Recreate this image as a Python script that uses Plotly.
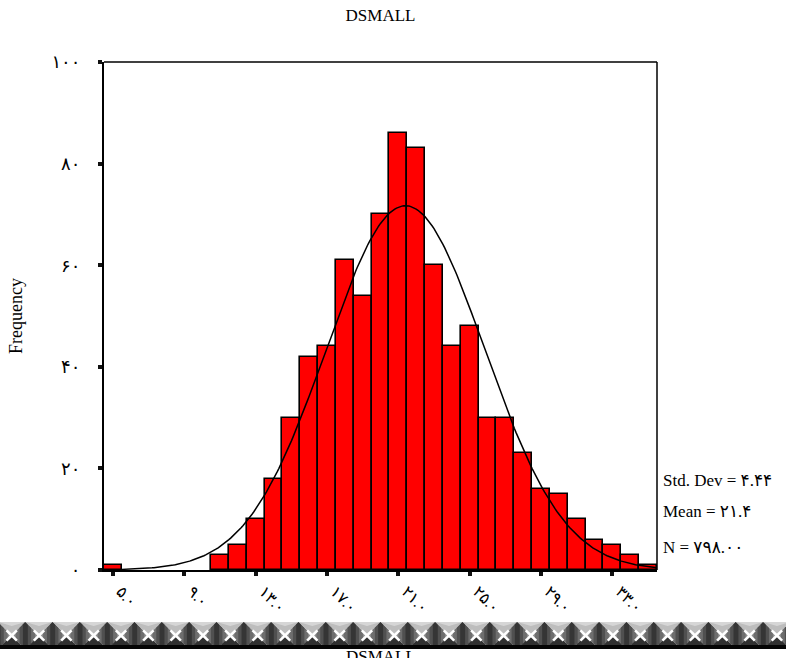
import numpy as np
import plotly.graph_objects as go

# ---------------- data ----------------
chart_title = "DSMALL"
bin_centers = [5, 11, 12, 13, 14, 15, 16, 17, 18, 19, 20, 21, 22, 23, 24, 25,
               26, 27, 28, 29, 30, 31, 32, 33, 34, 35]
frequencies = [1, 3, 5, 10, 18, 30, 42, 44, 61, 54, 70, 86, 83, 60, 44, 48,
               30, 30, 23, 16, 15, 10, 6, 5, 3, 1]
x_tick_vals = [5, 9, 13, 17, 21, 25, 29, 33]
x_tick_text = ["۵.۰", "۹.۰", "۱۳.۰", "۱۷.۰", "۲۱.۰", "۲۵.۰", "۲۹.۰", "۳۳.۰"]
y_tick_vals = [0, 20, 40, 60, 80, 100]
y_tick_text = ["۰", "۲۰", "۴۰", "۶۰", "۸۰", "۱۰۰"]
stat_mean = 21.4
stat_sd = 4.44
stat_n = 798
stat_lines = ["Std. Dev = ۴.۴۴", "Mean = ۲۱.۴", "N = ۷۹۸.۰۰"]
bin_width = 1.0

# ---------------- layout geometry (pixels) ----------------
W, H = 786, 658
PL, PR, PT, PB = 104, 657, 62, 570
PW, PH = PR - PL, PB - PT


def fx(px):
    return (px - PL) / PW


def fy(py):
    return (PB - py) / PH


SERIF = "Liberation Serif, DejaVu Serif, DejaVu Sans, serif"

fig = go.Figure()

fig.add_trace(go.Bar(
    x=bin_centers, y=frequencies, width=bin_width,
    marker=dict(color="#ff0000", line=dict(color="#000000", width=1.6)),
    hoverinfo="x+y", showlegend=False,
))

# fitted normal curve from the reported statistics
xs = np.linspace(5.5, 35.5, 301)
ys = stat_n * bin_width * np.exp(-0.5 * ((xs - stat_mean) / stat_sd) ** 2) / (stat_sd * np.sqrt(2 * np.pi))
fig.add_trace(go.Scatter(x=xs, y=ys, mode="lines",
                         line=dict(color="#000000", width=1.5),
                         hoverinfo="skip", showlegend=False))

shapes = []
# top and right frame lines
shapes.append(dict(type="line", xref="paper", yref="paper", x0=0, x1=1, y0=1, y1=1,
                   line=dict(color="black", width=1.5)))
shapes.append(dict(type="line", xref="paper", yref="paper", x0=1, x1=1, y0=0, y1=1,
                   line=dict(color="black", width=1.5)))

# decorative studded band at the bottom
band_top, band_bot = 622, 649
mid = (band_top + band_bot) / 2
hh = (band_bot - band_top) / 2
period = 27.33
half = period / 2
x0c = 11.7


def poly(pts, color):
    d = "M " + " L ".join(f"{fx(px):.5f},{fy(py):.5f}" for px, py in pts) + " Z"
    return dict(type="path", xref="paper", yref="paper", path=d,
                fillcolor=color, line=dict(width=0), layer="above")


for k in range(-1, 31):
    cx = x0c + period * k
    # top face
    shapes.append(poly([(cx - half, band_top), (cx + half, band_top), (cx, mid)], "#bdbdbd"))
    shapes.append(poly([(cx - half, band_top), (cx + half, band_top), (cx, band_top + 4)], "#d6d6d6"))
    # bottom face
    shapes.append(poly([(cx - half, band_bot), (cx + half, band_bot), (cx, mid)], "#303030"))
    # side faces forming diamond between apexes
    bx = cx + half
    for frac, col in [(1.0, "#8e8e8e"), (0.7, "#6e6e6e"), (0.42, "#505050"), (0.18, "#353535")]:
        w = half * frac
        dy = hh * (1 - w / half)
        shapes.append(poly([(bx, band_top), (bx + w, mid - dy), (bx + w, mid + dy),
                            (bx, band_bot), (bx - w, mid + dy), (bx - w, mid - dy)], col))
    # white highlight X at apex
    for sx, sy in [(-1, -1), (1, -1), (-1, 1), (1, 1)]:
        shapes.append(dict(type="line", xref="paper", yref="paper",
                           x0=fx(cx), y0=fy(mid),
                           x1=fx(cx + sx * half * 0.38), y1=fy(mid + sy * hh * 0.38),
                           line=dict(color="#ffffff", width=2.5), layer="above"))
# dark bottom edge
shapes.append(dict(type="rect", xref="paper", yref="paper",
                   x0=fx(0), x1=fx(W), y0=fy(band_bot), y1=fy(band_bot - 4),
                   fillcolor="#050505", line=dict(width=0), layer="above"))

annotations = []
stat_y = [480, 511, 547]
for txt, py in zip(stat_lines, stat_y):
    annotations.append(dict(text=txt, xref="paper", yref="paper", x=fx(661), y=fy(py),
                            xanchor="left", yanchor="middle", showarrow=False,
                            font=dict(family=SERIF, size=17, color="black")))
# repeated title of the next chart, cut by the page edge
annotations.append(dict(text=chart_title, xref="paper", yref="paper", x=0.5, y=fy(645),
                        xanchor="center", yanchor="top", showarrow=False,
                        font=dict(family=SERIF, size=17, color="black")))

fig.update_layout(
    width=W, height=H,
    margin=dict(l=PL, r=W - PR, t=PT, b=H - PB),
    paper_bgcolor="white", plot_bgcolor="white",
    bargap=0,
    title=dict(text=chart_title, x=0.5, xref="paper", xanchor="center",
               y=1 - 15 / H, yref="container", yanchor="middle",
               font=dict(family=SERIF, size=17, color="black")),
    xaxis=dict(range=[4.5, 35.5], tickmode="array", tickvals=x_tick_vals, ticktext=x_tick_text,
               tickangle=45, ticks="outside", ticklen=4, tickwidth=4, tickcolor="#111",
               ticklabelstandoff=0, ticklabelshift=8,
               showline=True, linewidth=2, linecolor="black", showgrid=False, zeroline=False,
               tickfont=dict(family=SERIF, size=16, color="black")),
    yaxis=dict(range=[0, 100], tickmode="array", tickvals=y_tick_vals, ticktext=y_tick_text,
               ticks="outside", ticklen=4, tickwidth=4, tickcolor="#111",
               ticklabelstandoff=14,
               showline=True, linewidth=2, linecolor="black", showgrid=False, zeroline=False,
               tickfont=dict(family=SERIF, size=18, color="black"),
               title=dict(text="Frequency", standoff=24,
                          font=dict(family=SERIF, size=18, color="black"))),
    shapes=shapes,
    annotations=annotations,
    font=dict(family=SERIF),
)

fig.write_html("out.html")
